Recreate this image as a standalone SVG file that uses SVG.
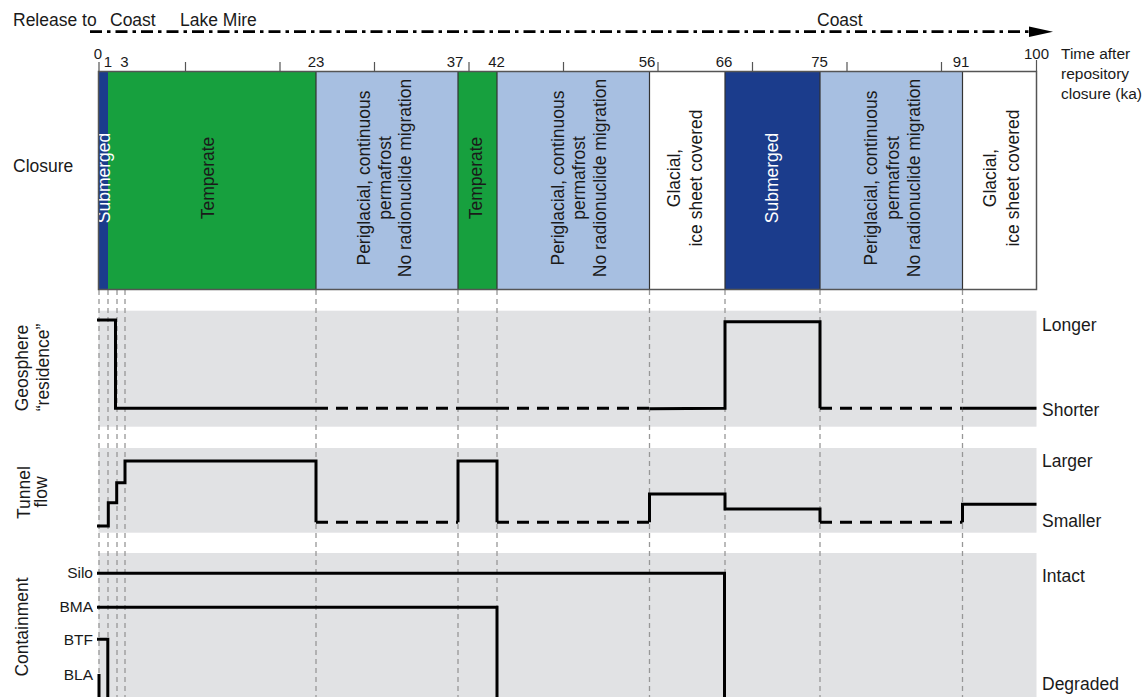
<svg xmlns="http://www.w3.org/2000/svg" width="1146" height="697" viewBox="0 0 1146 697">
<style>
text{font-family:"Liberation Sans",Arial,sans-serif;fill:#1a1a1a}
.lbl{font-size:17.5px}
.num{font-size:15px;text-anchor:middle}
.ax{font-size:15.5px}
.cl{font-size:15.5px;text-anchor:end}
.bt{font-size:17.5px;text-anchor:middle}
.wt{fill:#ffffff}
.panel{fill:#e1e2e4}
.grid{stroke:#979797;stroke-width:1.3;stroke-dasharray:5 4;fill:none}
.tick{stroke:#555;stroke-width:1.2}
.sep{stroke:#333;stroke-width:1.2}
.solid{stroke:#000;stroke-width:3;fill:none;stroke-linejoin:miter}
.dash{stroke:#000;stroke-width:3;fill:none;stroke-dasharray:12 8}
</style>

<g id="header">
<text class="lbl" x="13" y="26">Release to</text>
<text class="lbl" x="110" y="26">Coast</text>
<text class="lbl" x="180" y="26">Lake Mire</text>
<text class="lbl" x="817" y="26">Coast</text>
<line x1="90" y1="31.7" x2="1029" y2="31.7" stroke="#000" stroke-width="2.7" stroke-dasharray="12 5 3.5 5"/>
<path d="M1029,26.5 L1053,31.7 L1029,36.9 Z" fill="#000"/>
</g>

<g id="panels">
<rect class="panel" x="98.5" y="310.7" width="938" height="116"/>
<rect class="panel" x="98.5" y="448" width="938" height="84.7"/>
<rect class="panel" x="98.5" y="553" width="938" height="144"/>
</g>

<g id="gridlines">
<path class="grid" d="M99,290V697 M108,290V697 M117,290V697 M125,290V697 M316,290V697 M458,290V697 M497,290V697 M649.5,290V697 M725,290V697 M820,290V697 M962.5,290V697"/>
</g>

<g id="timeline">
<g id="b-temperate1"><rect x="108" y="71.5" width="208" height="218" fill="#17a03e"/>
<text class="bt" transform="translate(213.5,178) rotate(-90)">Temperate</text></g>
<g id="b-submerged1"><rect x="98.5" y="71.5" width="9.5" height="218" fill="#1b3c8c"/>
<text class="bt wt" transform="translate(110,178) rotate(-90)">Submerged</text></g>
<g id="b-periglacial1"><rect x="316" y="71.5" width="142" height="218" fill="#a7bfe1"/>
<text class="bt" transform="translate(370,178) rotate(-90)">Periglacial, continuous</text>
<text class="bt" transform="translate(391,178) rotate(-90)">permafrost</text>
<text class="bt" transform="translate(411,178) rotate(-90)">No radionuclide migration</text></g>
<g id="b-temperate2"><rect x="458" y="71.5" width="39" height="218" fill="#17a03e"/>
<text class="bt" transform="translate(482,178) rotate(-90)">Temperate</text></g>
<g id="b-periglacial2"><rect x="497" y="71.5" width="152.5" height="218" fill="#a7bfe1"/>
<text class="bt" transform="translate(564,178) rotate(-90)">Periglacial, continuous</text>
<text class="bt" transform="translate(585,178) rotate(-90)">permafrost</text>
<text class="bt" transform="translate(606,178) rotate(-90)">No radionuclide migration</text></g>
<g id="b-glacial1"><rect x="649.5" y="71.5" width="75.5" height="218" fill="#ffffff"/>
<text class="bt" transform="translate(680,178) rotate(-90)">Glacial,</text>
<text class="bt" transform="translate(702,178) rotate(-90)">ice sheet covered</text></g>
<g id="b-submerged2"><rect x="725" y="71.5" width="95" height="218" fill="#1b3c8c"/>
<text class="bt wt" transform="translate(778,178) rotate(-90)">Submerged</text></g>
<g id="b-periglacial3"><rect x="820" y="71.5" width="142.5" height="218" fill="#a7bfe1"/>
<text class="bt" transform="translate(877,178) rotate(-90)">Periglacial, continuous</text>
<text class="bt" transform="translate(899,178) rotate(-90)">permafrost</text>
<text class="bt" transform="translate(920,178) rotate(-90)">No radionuclide migration</text></g>
<g id="b-glacial2"><rect x="962.5" y="71.5" width="74" height="218" fill="#ffffff"/>
<text class="bt" transform="translate(996,178) rotate(-90)">Glacial,</text>
<text class="bt" transform="translate(1019,178) rotate(-90)">ice sheet covered</text></g>
<path class="sep" d="M316,71.5V289.5 M458,71.5V289.5 M497,71.5V289.5 M649.5,71.5V289.5 M725,71.5V289.5 M820,71.5V289.5 M962.5,71.5V289.5"/>
<rect x="98.5" y="71.5" width="938" height="218" fill="none" stroke="#555" stroke-width="1.5"/>
<path class="tick" d="M99,62V71.5 M185.5,62V71.5 M280,62V71.5 M374.5,62V71.5 M469,62V71.5 M563.5,62V71.5 M658,62V71.5 M752.5,62V71.5 M847,62V71.5 M941.5,62V71.5 M1036.5,60V71.5"/>
<text class="num" x="98" y="59">0</text>
<text class="num" x="108" y="67">1</text>
<text class="num" x="124.5" y="67">3</text>
<text class="num" x="316" y="67">23</text>
<text class="num" x="455" y="67">37</text>
<text class="num" x="496.5" y="67">42</text>
<text class="num" x="647" y="67">56</text>
<text class="num" x="724" y="67">66</text>
<text class="num" x="819.5" y="67">75</text>
<text class="num" x="961" y="67">91</text>
<text class="num" x="1036.5" y="59">100</text>
<text class="ax" x="1061" y="59.3">Time after</text>
<text class="ax" x="1061" y="79.3">repository</text>
<text class="ax" x="1061" y="99.3">closure (ka)</text>
</g>

<g id="row-labels">
<text class="lbl" x="13" y="172">Closure</text>
<text class="lbl" text-anchor="middle" transform="translate(28,368) rotate(-90)">Geosphere</text>
<text class="lbl" text-anchor="middle" transform="translate(48.5,367.5) rotate(-90)">“residence”</text>
<text class="lbl" text-anchor="middle" transform="translate(29.5,492.5) rotate(-90)">Tunnel</text>
<text class="lbl" text-anchor="middle" transform="translate(47,492) rotate(-90)">flow</text>
<text class="lbl" text-anchor="middle" transform="translate(28,627) rotate(-90)">Containment</text>
<text class="lbl" x="1042" y="331">Longer</text>
<text class="lbl" x="1042" y="416">Shorter</text>
<text class="lbl" x="1042" y="466.7">Larger</text>
<text class="lbl" x="1042" y="526.7">Smaller</text>
<text class="lbl" x="1042" y="581.7">Intact</text>
<text class="lbl" x="1042" y="690">Degraded</text>
<text class="cl" x="93" y="578">Silo</text>
<text class="cl" x="93" y="612">BMA</text>
<text class="cl" x="93" y="645">BTF</text>
<text class="cl" x="93" y="680">BLA</text>
</g>

<g id="connectors">
<g id="geosphere">
<path class="solid" d="M97,320 H115.5 V408.3 H316"/>
<path class="dash" d="M316,408.3 H458"/>
<path class="solid" d="M458,408.3 H497"/>
<path class="dash" d="M497,408.3 H649.5"/>
<path class="solid" d="M649.5,408.8 L725,408.3 V321.7 H820 V408.3"/>
<path class="dash" d="M820,408.3 H962.5"/>
<path class="solid" d="M962.5,408.3 H1036.5"/>
</g>
<g id="tunnel">
<path class="solid" d="M97,526 H108.3 V502.7 H116.7 V482.7 H125 V461 H316 V522.3"/>
<path class="dash" d="M316,522.3 H458"/>
<path class="solid" d="M458,522.3 V461 H497 V522.3"/>
<path class="dash" d="M497,522.3 H649.5"/>
<path class="solid" d="M649.5,522.3 V494 H725 V509 H820 V522.3"/>
<path class="dash" d="M820,522.3 H962.5"/>
<path class="solid" d="M962.5,522.3 V504.3 H1036.5"/>
</g>
<g id="containment">
<path class="solid" d="M97,573.3 H724.5 V697"/>
<path class="solid" d="M97,607.3 H497 V697"/>
<path class="solid" d="M97,639.3 H107.8 V697"/>
<path class="solid" d="M99,674 V697"/>
</g>
</g>
</svg>
